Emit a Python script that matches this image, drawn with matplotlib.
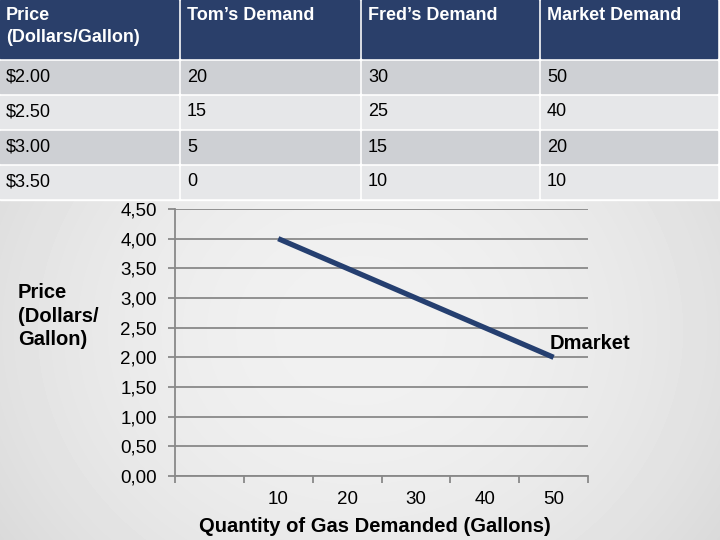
import numpy as np
import matplotlib.pyplot as plt
from matplotlib.patches import Rectangle
from matplotlib.ticker import FuncFormatter, FixedLocator

plt.rcParams['font.family'] = ['Liberation Sans', 'DejaVu Sans']

# table contents
header = ['Price\n(Dollars/Gallon)', 'Tom\u2019s Demand', 'Fred\u2019s Demand', 'Market Demand']
prices = ['$2.00', '$2.50', '$3.00', '$3.50']
tom = [20, 15, 5, 0]
fred = [30, 25, 15, 10]
market = [50, 40, 20, 10]

# chart data (category axis, first slot empty)
qty_labels = ['', '10', '20', '30', '40', '50']
curve_price = [None, 4.00, 3.50, 3.00, 2.50, 2.00]

fig = plt.figure(figsize=(7.2, 5.4), dpi=100)

# soft gray backdrop, lighter in the middle
bg = fig.add_axes([0, 0, 1, 1], zorder=0)
yy, xx = np.mgrid[0:540, 0:720]
r = np.sqrt(((xx - 360) / 380.0) ** 2 + ((yy - 330) / 330.0) ** 2)
shade = np.clip(0.945 - 0.07 * r ** 2, 0.80, 0.95)
bg.imshow(shade, cmap='gray', vmin=0, vmax=1, extent=[0, 720, 540, 0], aspect='auto')
bg.set_xlim(0, 720)
bg.set_ylim(540, 0)
bg.axis('off')

# table drawn in pixel space
tb = fig.add_axes([0, 0, 1, 1], zorder=1)
tb.set_xlim(0, 720)
tb.set_ylim(540, 0)
tb.axis('off')
tb.patch.set_alpha(0)

col_x = [0, 181, 362, 541, 720]
tb.add_patch(Rectangle((0, 0), 720, 200, color='white', zorder=1))
for c in range(4):
    tb.add_patch(Rectangle((col_x[c], 0), col_x[c + 1] - col_x[c] - 3, 58,
                           color='#2A3F6A', zorder=2))
    tb.text(col_x[c] + 6, 7, header[c], color='white', fontsize=13,
            fontweight='bold', va='top', ha='left', zorder=3, linespacing=1.4)

rows = list(zip(prices, tom, fred, market))
for i, row in enumerate(rows):
    y0 = 61 + i * 35
    fc = '#CED0D4' if i % 2 == 0 else '#E6E7E9'
    for c in range(4):
        tb.add_patch(Rectangle((col_x[c], y0), col_x[c + 1] - col_x[c] - 3, 32,
                               color=fc, zorder=2))
        tb.text(col_x[c] + 6, y0 + 16, str(row[c]), color='black', fontsize=13,
                va='center', ha='left', zorder=3)

# the chart
ax = fig.add_axes([175 / 720, 1 - 476 / 540, (588 - 175) / 720, (476 - 209) / 540], zorder=2)
ax.patch.set_alpha(0)
xs = [i + 0.5 for i, p in enumerate(curve_price) if p is not None]
ys = [p for p in curve_price if p is not None]
ax.plot(xs, ys, color='#253F70', lw=3.8, solid_capstyle='butt', zorder=3)

ax.set_xlim(0, len(qty_labels))
ax.set_ylim(0, 4.5)
ax.set_yticks(np.arange(0, 4.51, 0.5))
ax.yaxis.set_major_formatter(FuncFormatter(lambda v, p: ('%.2f' % v).replace('.', ',')))
ax.grid(axis='y', color='#898989', lw=1.3)
ax.set_axisbelow(True)

ax.xaxis.set_major_locator(FixedLocator(range(len(qty_labels) + 1)))
ax.xaxis.set_minor_locator(FixedLocator([i + 0.5 for i in range(len(qty_labels))]))
ax.set_xticklabels([''] * (len(qty_labels) + 1))
ax.set_xticklabels(qty_labels, minor=True)
ax.tick_params(axis='x', which='major', length=5, width=1.3, color='#898989', direction='out')
ax.tick_params(axis='x', which='minor', length=0, pad=11, labelsize=13.5)
ax.tick_params(axis='y', length=5, width=1.3, color='#898989', labelsize=13.5, pad=8)

for s in ['top', 'right']:
    ax.spines[s].set_visible(False)
for s in ['left', 'bottom']:
    ax.spines[s].set_color('#898989')
    ax.spines[s].set_linewidth(1.3)

ax.set_xlabel('Quantity of Gas Demanded (Gallons)', fontsize=14.5, fontweight='bold')
ax.xaxis.set_label_coords(0.483, -0.155)
fig.text(18 / 720, 1 - 283 / 540, 'Price\n(Dollars/\nGallon)', fontsize=14.5,
         fontweight='bold', va='top', ha='left', linespacing=1.3)
ax.annotate('Dmarket', xy=(xs[-1], ys[-1]), xytext=(-3, 3), textcoords='offset points',
            fontsize=14.5, fontweight='bold', ha='left', va='bottom', annotation_clip=False)

fig.savefig('out.png', dpi=100)
